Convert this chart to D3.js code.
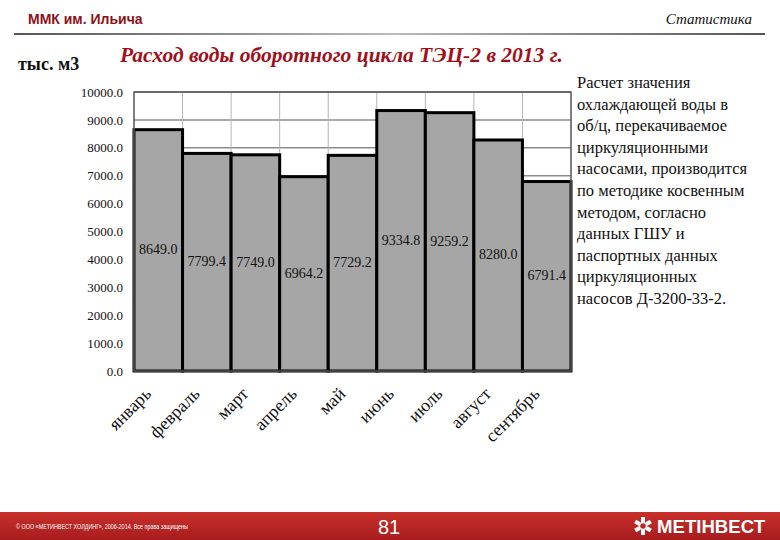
<!DOCTYPE html>
<html><head><meta charset="utf-8">
<script src="https://cdn.jsdelivr.net/npm/d3@7"></script>
<style>body{margin:0;background:#fff;}svg{display:block;}</style>
</head><body>
<script>
const months = ["январь","февраль","март","апрель","май","июнь","июль","август","сентябрь"];
const values = [8649.0, 7799.4, 7749.0, 6964.2, 7729.2, 9334.8, 9259.2, 8280.0, 6791.4];
const yTicks = [0,1000,2000,3000,4000,5000,6000,7000,8000,9000,10000];
const noteLines = ["Расчет значения","охлаждающей воды в","об/ц, перекачиваемое","циркуляционными","насосами, производится","по методике косвенным","методом,  согласно","данных ГШУ и","паспортных данных","циркуляционных","насосов Д-3200-33-2."];

const SERIF="'Liberation Serif','Times New Roman',serif";
const SANS="'Liberation Sans',Arial,sans-serif";
const W=780,H=540;
const svg=d3.select("body").append("svg").attr("width",W).attr("height",H);
const defs=svg.append("defs");
const lg=defs.append("linearGradient").attr("id","hl");
lg.append("stop").attr("offset","0").attr("stop-color","#555");
lg.append("stop").attr("offset","0.5").attr("stop-color","#bbb");
lg.append("stop").attr("offset","1").attr("stop-color","#555");
const fg=defs.append("linearGradient").attr("id","ft").attr("x1",0).attr("y1",0).attr("x2",0).attr("y2",1);
fg.append("stop").attr("offset","0").attr("stop-color","#c8302c");
fg.append("stop").attr("offset","1").attr("stop-color","#a81c1e");

// header
svg.append("text").attr("x",28).attr("y",24).style("font-family",SANS).attr("font-weight","bold").attr("font-size",14).attr("fill","#8b1218").text("ММК им. Ильича");
svg.append("text").attr("x",752).attr("y",24).attr("text-anchor","end").style("font-family",SERIF).attr("font-style","italic").attr("font-size",15).attr("fill","#111").text("Статистика");
svg.append("rect").attr("x",14).attr("y",33).attr("width",751).attr("height",2).attr("fill","url(#hl)");
svg.append("text").attr("x",18).attr("y",70).style("font-family",SERIF).attr("font-weight","bold").attr("font-size",18).attr("fill","#111").text("тыс. м3");
svg.append("text").attr("x",120).attr("y",62).style("font-family",SERIF).attr("font-weight","bold").attr("font-style","italic").attr("font-size",21.5).attr("fill","#a0101a").text("Расход воды оборотного цикла ТЭЦ-2 в 2013 г.");

// chart
const m={l:134,t:92,r:571,b:371};
const x=d3.scaleBand().domain(months).range([m.l,m.r]).padding(0);
const y=d3.scaleLinear().domain([0,10000]).range([m.b,m.t]);

const g=svg.append("g");
g.selectAll("line.hg").data(yTicks.filter(d=>d>=7000)).join("line")
 .attr("x1",m.l).attr("x2",m.r).attr("y1",d=>y(d)).attr("y2",d=>y(d))
 .attr("stroke","#8c8c8c").attr("stroke-width",1.5);
g.selectAll("line.vg").data(months.slice(1)).join("line")
 .attr("x1",d=>x(d)).attr("x2",d=>x(d)).attr("y1",m.t).attr("y2",m.b)
 .attr("stroke","#b5b5b5").attr("stroke-width",1);

g.selectAll("rect.bar").data(values).join("rect")
 .attr("x",(d,i)=>x(months[i])).attr("y",d=>y(d))
 .attr("width",x.bandwidth()).attr("height",d=>y(0)-y(d))
 .attr("fill","#a6a6a6").attr("stroke","#000").attr("stroke-width",3);

g.append("rect").attr("x",m.l).attr("y",m.t).attr("width",m.r-m.l).attr("height",m.b-m.t)
 .attr("fill","none").attr("stroke","#555").attr("stroke-width",1.5);

g.selectAll("text.val").data(values).join("text")
 .attr("x",(d,i)=>x(months[i])+x.bandwidth()/2).attr("y",d=>(y(d)+y(0))/2+4)
 .attr("text-anchor","middle").style("font-family",SERIF).attr("font-size",14).attr("fill","#111")
 .text(d=>d.toFixed(1));

const ya=svg.append("g").attr("transform",`translate(${m.l},0)`)
 .call(d3.axisLeft(y).tickValues(yTicks).tickFormat(d=>d.toFixed(1)).tickSize(0).tickPadding(11));
ya.select(".domain").remove();
ya.selectAll("text").style("font-family",SERIF).attr("font-size",13).attr("fill","#111");

const xa=svg.append("g").attr("transform",`translate(0,${m.b})`)
 .call(d3.axisBottom(x).tickSize(0).tickPadding(0));
xa.select(".domain").remove();
xa.selectAll("text").style("font-family",SERIF).attr("font-size",18).attr("fill","#111")
 .attr("text-anchor","end").attr("dy",0)
 .attr("transform","translate(-6,24) rotate(-45)");

const nt=svg.append("text").style("font-family",SERIF).attr("font-size",16.5).attr("fill","#111");
nt.selectAll("tspan").data(noteLines).join("tspan").attr("x",577).attr("y",(d,i)=>88+i*21.6).text(d=>d);

// footer
svg.append("rect").attr("x",0).attr("y",512).attr("width",W).attr("height",28).attr("fill","url(#ft)");
svg.append("text").attr("x",16).attr("y",529).style("font-family",SANS).attr("font-size",7.5).attr("textLength",172).attr("lengthAdjust","spacingAndGlyphs").attr("fill","#fff").text("© ООО «МЕТИНВЕСТ ХОЛДИНГ», 2006-2014. Все права защищены");
svg.append("text").attr("x",389).attr("y",534).attr("text-anchor","middle").style("font-family",SANS).attr("font-size",20).attr("fill","#fff").text("81");
const lgG=svg.append("g").attr("transform","translate(643,526)").attr("fill","#fff");
[0,60,120,180,240,300].forEach(a=>{
  lgG.append("rect").attr("x",-2).attr("y",-9).attr("width",4).attr("height",5).attr("transform",`rotate(${a})`);
});
lgG.append("circle").attr("r",3.5).attr("fill","none").attr("stroke","#fff").attr("stroke-width",1.5);
svg.append("text").attr("x",657).attr("y",533).style("font-family",SANS).attr("font-weight","bold").attr("font-size",18).attr("textLength",108).attr("lengthAdjust","spacingAndGlyphs").attr("fill","#fff").text("МЕТІНВЕСТ");
</script>
</body></html>
